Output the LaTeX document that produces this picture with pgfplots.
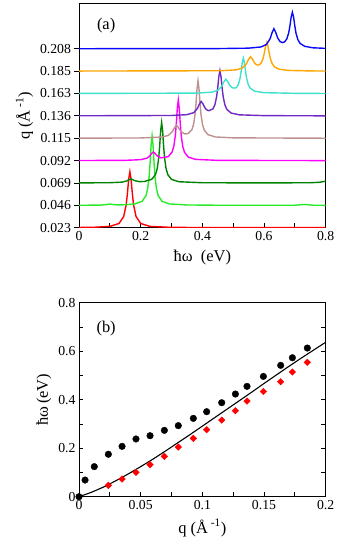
\documentclass[border=0pt]{standalone}
\usepackage{fontspec}
\setmainfont{Liberation Serif}
\usepackage{pgfplots}
\pgfplotsset{compat=1.18}
\definecolor{cblue}{RGB}{10,10,250}
\definecolor{corange}{RGB}{255,165,0}
\definecolor{ccyan}{RGB}{64,224,208}
\definecolor{cpurple}{RGB}{110,40,195}
\definecolor{cbrown}{RGB}{190,145,145}
\definecolor{cmag}{RGB}{255,0,255}
\definecolor{cdgreen}{RGB}{0,130,0}
\definecolor{clgreen}{RGB}{40,235,40}
\definecolor{cred}{RGB}{255,0,0}
\pgfplotsset{
  common/.style={
    scale only axis,
    axis line style={line width=1pt},
    every tick/.style={black, line width=0.8pt},
    major tick length=4.5bp, minor tick length=4.5bp,
    tick label style={font=\fontsize{13.8}{16}\selectfont},
    label style={font=\fontsize{16.5}{19}\selectfont},
    /pgf/number format/assume math mode=true,
    scaled ticks=false,
    clip=true,
  }
}
\begin{document}
\begin{tikzpicture}
\path[use as bounding box] (-79bp,-53.3bp) rectangle (261bp,496.7bp);
% ---------------- panel (a) ----------------
\begin{axis}[common,
  at={(0,269bp)}, anchor=south west,
  width=246.7bp, height=223.7bp,
  xmin=0, xmax=0.8, ymin=0, ymax=10,
  xtick={0,0.2,0.4,0.6,0.8},
  xticklabels={0,0.2,0.4,0.6,0.8},
  minor xtick={0.1,0.3,0.5,0.7},
  xtick pos=bottom, xtick align=inside,
  ytick={0,1,2,3,4,5,6,7,8},
  yticklabels={0.023,0.046,0.069,0.092,0.115,0.136,0.163,0.185,0.208},
  ytick pos=left, ytick align=outside,
  xlabel={ħω\ \ (eV)},
  xlabel style={yshift=-3bp},
  ylabel={q (Å\,\textsuperscript{-1})},
  every axis plot/.append style={line width=1.4pt, mark=none},
]
\addplot[cred] coordinates {(0,0.01) (0.05,0.02) (0.1,0.058) (0.13,0.19) (0.145,0.5) (0.153,1.025) (0.157,1.525) (0.161,2.155) (0.165,2.5) (0.169,2.155) (0.173,1.525) (0.177,1.025) (0.185,0.5) (0.2,0.19) (0.23,0.058) (0.3,0.014) (0.5,0.002) (0.8,0)};
\addplot[clgreen] coordinates {(0,1.004) (0.07,1.008) (0.09,1.035) (0.1,1.06) (0.11,1.035) (0.125,1.018) (0.15,1.026) (0.181,1.062) (0.205,1.182) (0.217,1.428) (0.2226,1.731) (0.2274,2.271) (0.2306,2.891) (0.2338,3.672) (0.237,4.1) (0.2402,3.672) (0.2434,2.891) (0.2466,2.271) (0.2514,1.731) (0.257,1.428) (0.269,1.182) (0.293,1.062) (0.35,1.016) (0.45,1.004) (0.6,1.002) (0.70,1.004) (0.73,1.04) (0.76,1.004) (0.8,1.0)};
\addplot[cdgreen] coordinates {(0,2.003) (0.1,2.011) (0.14,2.037) (0.155,2.092) (0.168,2.187) (0.18,2.107) (0.195,2.06) (0.212,2.066) (0.236,2.164) (0.248,2.373) (0.2536,2.637) (0.2584,3.107) (0.2616,3.647) (0.2648,4.327) (0.268,4.7) (0.2712,4.327) (0.2744,3.647) (0.2776,3.107) (0.2824,2.637) (0.288,2.373) (0.3,2.159) (0.324,2.054) (0.4,2.01) (0.6,2.002) (0.75,2.01) (0.78,2.03) (0.8,2.08)};
\addplot[cmag] coordinates {(0,3.003) (0.15,3.012) (0.2,3.04) (0.22,3.106) (0.229,3.2) (0.235,3.311) (0.241,3.386) (0.247,3.318) (0.253,3.216) (0.266,3.121) (0.29,3.18) (0.302,3.386) (0.3076,3.647) (0.3124,4.115) (0.3156,4.655) (0.3188,5.335) (0.322,5.708) (0.3252,5.327) (0.3284,4.647) (0.3316,4.107) (0.3364,3.637) (0.342,3.373) (0.354,3.159) (0.378,3.054) (0.45,3.01) (0.8,3.0)};
\addplot[cbrown] coordinates {(0,4.002) (0.2,4.012) (0.27,4.053) (0.29,4.128) (0.303,4.299) (0.3095,4.468) (0.316,4.583) (0.3225,4.48) (0.33,4.305) (0.343,4.189) (0.354,4.208) (0.366,4.378) (0.3716,4.625) (0.3764,5.067) (0.3796,5.576) (0.3828,6.218) (0.386,6.568) (0.3892,6.215) (0.3924,5.572) (0.3956,5.061) (0.4004,4.616) (0.406,4.365) (0.418,4.16) (0.442,4.057) (0.5,4.016) (0.8,4.0)};
\addplot[cpurple] coordinates {(0,5.003) (0.3,5.016) (0.35,5.052) (0.372,5.142) (0.384,5.33) (0.39,5.516) (0.396,5.643) (0.402,5.532) (0.408,5.365) (0.414,5.269) (0.421,5.23) (0.4345,5.312) (0.4408,5.503) (0.4462,5.848) (0.4498,6.246) (0.4534,6.748) (0.457,7.022) (0.4606,6.744) (0.4642,6.239) (0.4678,5.837) (0.4732,5.487) (0.4795,5.289) (0.493,5.127) (0.52,5.045) (0.6,5.01) (0.8,5.0)};
\addplot[ccyan] coordinates {(0,6.002) (0.38,6.016) (0.43,6.056) (0.45,6.138) (0.463,6.326) (0.4695,6.511) (0.476,6.638) (0.4825,6.528) (0.489,6.362) (0.497,6.257) (0.503,6.24) (0.5105,6.261) (0.5168,6.407) (0.5222,6.673) (0.5258,6.98) (0.5294,7.368) (0.533,7.58) (0.5366,7.364) (0.5402,6.972) (0.5438,6.661) (0.5492,6.388) (0.5555,6.233) (0.569,6.104) (0.6,6.035) (0.7,6.007) (0.8,6.0)};
\addplot[corange] coordinates {(0,7.002) (0.46,7.017) (0.51,7.057) (0.53,7.14) (0.543,7.328) (0.5495,7.514) (0.556,7.643) (0.5625,7.535) (0.569,7.374) (0.575,7.29) (0.58,7.269) (0.584,7.279) (0.591,7.368) (0.597,7.568) (0.601,7.809) (0.605,8.117) (0.609,8.284) (0.613,8.108) (0.617,7.79) (0.621,7.538) (0.627,7.315) (0.634,7.19) (0.649,7.086) (0.68,7.031) (0.75,7.008) (0.8,7.004)};
\addplot[cblue] coordinates {(0,8.001) (0.45,8.007) (0.55,8.026) (0.59,8.079) (0.608,8.192) (0.62,8.455) (0.626,8.716) (0.632,8.893) (0.638,8.733) (0.644,8.492) (0.652,8.319) (0.66,8.274) (0.667,8.31) (0.674,8.442) (0.68,8.706) (0.684,9.019) (0.688,9.416) (0.692,9.633) (0.696,9.408) (0.7,9.002) (0.704,8.679) (0.71,8.398) (0.717,8.238) (0.732,8.106) (0.76,8.041) (0.8,8.018)};
\node[font=\fontsize{16.5}{19}\selectfont] at (axis cs:0.088,9.05) {(a)};
\end{axis}
% ---------------- panel (b) ----------------
\begin{axis}[common,
  at={(0,0)}, anchor=south west,
  width=246.7bp, height=194bp,
  xmin=0, xmax=0.2, ymin=0, ymax=0.8,
  xtick={0,0.05,0.1,0.15,0.2},
  xticklabels={0,0.05,0.1,0.15,0.2},
  minor xtick={0.025,0.075,0.125,0.175},
  xtick pos=bottom, xtick align=inside,
  ytick={0,0.2,0.4,0.6,0.8},
  yticklabels={0,0.2,0.4,0.6,0.8},
  minor ytick={0.1,0.3,0.5,0.7},
  ytick pos=both, ytick align=inside,
  xlabel={q (Å\,\textsuperscript{-1})},
  xlabel style={yshift=-3bp},
  ylabel={ħω\,(eV)},
  clip=false,
]
\addplot[black, line width=1.1pt, mark=none] coordinates {(0,0) (0.01,0.018) (0.02,0.040) (0.03,0.066) (0.04,0.094) (0.05,0.124) (0.06,0.155) (0.07,0.188) (0.08,0.222) (0.09,0.256) (0.1,0.291) (0.11,0.326) (0.12,0.361) (0.13,0.396) (0.14,0.431) (0.15,0.467) (0.16,0.502) (0.17,0.537) (0.18,0.571) (0.19,0.604) (0.2,0.637)};
\addplot[only marks, mark=*, mark size=3.3bp, black] coordinates {(0,0) (0.0049,0.0687) (0.0124,0.124) (0.0238,0.175) (0.0349,0.2076) (0.0462,0.238) (0.0576,0.2515) (0.0692,0.2735) (0.0805,0.293) (0.0927,0.323) (0.1035,0.3505) (0.1157,0.3876) (0.1268,0.4234) (0.1362,0.455) (0.1495,0.496) (0.1635,0.5416) (0.173,0.573) (0.1851,0.613)};
\addplot[only marks, mark=square*, mark size=2.3bp, mark options={rotate=45}, cred] coordinates {(0.0238,0.0467) (0.0349,0.0729) (0.0462,0.1003) (0.0576,0.132) (0.0692,0.1663) (0.0805,0.2048) (0.0927,0.2405) (0.1035,0.2763) (0.1157,0.316) (0.1268,0.3546) (0.1362,0.3945) (0.1495,0.434) (0.1635,0.474) (0.173,0.514) (0.1851,0.554)};
\node[font=\fontsize{16.5}{19}\selectfont] at (axis cs:0.022,0.695) {(b)};
\end{axis}
\end{tikzpicture}
\end{document}
